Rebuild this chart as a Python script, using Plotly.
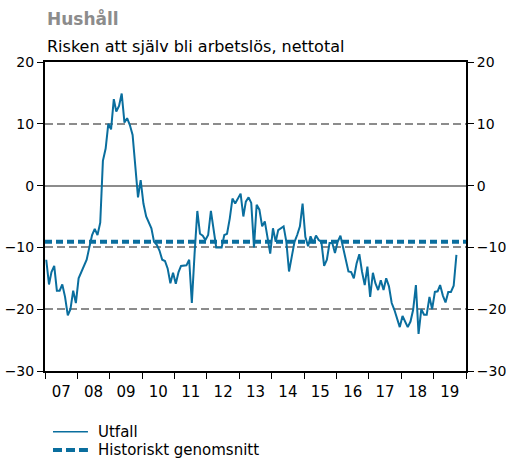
import plotly.graph_objects as go
import pandas as pd

# Monthly net balance, Jan 2007 - Sep 2019
utfall = [
    -12, -16, -14, -13, -17, -17, -16, -18, -21, -20, -17, -19,
    -15, -14, -13, -12, -10, -8, -7, -8, -6, 4, 6, 10,
    9.1, 14, 12, 12.9, 14.9, 10.2, 10.9, 9.8, 8.2, 3.6, -1.9, 0.9,
    -2.9, -5, -5.8, -6.9, -9.1, -9.6, -10.5, -12, -12.2, -13.4,
    -15.8, -14.1, -15.9, -14, -13, -13, -12.9, -12, -19, -11, -4.1, -7.8,
    -8.1, -8.8, -8, -4.1, -6.6, -10, -10, -10, -8, -7.8, -5.3, -2.1,
    -2.9, -2.1,
    -1.3, -5, -2.6, -1.9, -2.8, -10, -3.1, -3.9, -6.6, -5.8, -8.8, -11,
    -6.9, -9.1, -7.2, -6.9, -6.6, -9.1, -13.9, -11.5, -9.1, -8, -6.6, -2.9,
    -8.3, -9.8, -8.2, -9.3, -8.1, -8.8, -9.1, -13, -12, -9.3, -9.3, -10.9,
    -9.1, -8.1, -10, -12, -13.9, -14, -15, -12.6, -11.1, -13.9, -16.1, -13.1,
    -18, -14.1, -15.8, -16.9, -15.3, -16.9, -15, -16.3, -19, -20.1, -21.6, -22.9,
    -21.1, -22, -22.9, -22, -20.1, -16.1, -24, -20, -20.9, -20.9, -18, -20,
    -17.2, -17.1, -16.1, -17.8, -18.9, -17.2, -17.2, -16.2, -11.2,
]
months = pd.date_range("2007-01-01", periods=len(utfall), freq="MS") + pd.Timedelta(days=14)

hist_avg = -9.1
avg_span = ["2007-01-01", "2020-01-01"]

title = "Hushåll"
subtitle = "Risken att själv bli arbetslös, nettotal"
legend_names = ["Utfall", "Historiskt genomsnitt"]

blue = "#0a6e9e"
font = "DejaVu Sans"

fig = go.Figure()
fig.add_trace(go.Scatter(
    x=months, y=utfall, mode="lines", name=legend_names[0],
    line=dict(color=blue, width=2),
))
fig.add_trace(go.Scatter(
    x=avg_span, y=[hist_avg, hist_avg], mode="lines", name=legend_names[1],
    line=dict(color=blue, width=4, dash="7px,4px"), yaxis="y2",
))

yax = dict(
    range=[-30, 20], dtick=10, showline=True, linecolor="black", linewidth=2,
    ticks="outside", ticklen=6, tickcolor="black", tickwidth=1,
    showgrid=True, gridcolor="#8c8c8c", gridwidth=2, griddash="8px,4px",
    zeroline=True, zerolinecolor="#8c8c8c", zerolinewidth=2,
    tickfont=dict(size=14, color="black", family=font), fixedrange=True,
    automargin=False,
)

# legend drawn by hand below the plot (plotly's own legend pushes the margins)
legend_rows = [-0.197, -0.256]
legend_styles = [dict(color=blue, width=1.5), dict(color=blue, width=4, dash="9px,4px")]
shapes = []
annotations = []
for name, ypos, style in zip(legend_names, legend_rows, legend_styles):
    shapes.append(dict(type="line", xref="paper", yref="paper",
                       x0=0.019, x1=0.102, y0=ypos, y1=ypos, line=style))
    annotations.append(dict(text=name, x=0.121, y=ypos, xref="paper", yref="paper",
                            xanchor="left", yanchor="middle", showarrow=False,
                            font=dict(size=15, color="black", family=font)))

annotations += [
    dict(text="<b>" + title + "</b>", x=0, y=1, xref="paper", yref="paper",
         xanchor="left", yanchor="bottom", yshift=31, showarrow=False,
         font=dict(size=17, color="#8c8c8c", family=font)),
    dict(text=subtitle, x=0, y=1, xref="paper", yref="paper",
         xanchor="left", yanchor="bottom", yshift=4, showarrow=False,
         font=dict(size=16, color="black", family=font)),
]

fig.update_layout(
    width=506, height=459,
    margin=dict(l=45, r=40, t=62, b=88),
    plot_bgcolor="white", paper_bgcolor="white",
    font=dict(family=font, size=15, color="black"),
    xaxis=dict(
        type="date", range=["2007-01-01", "2020-01-01"],
        dtick="M12", tick0="2007-01-01", tickformat="%y", ticklabelmode="period",
        ticks="outside", ticklen=6, tickcolor="black",
        showline=True, linecolor="black", linewidth=2, mirror=True,
        showgrid=False, tickfont=dict(size=15, family=font), automargin=False,
    ),
    yaxis=yax,
    yaxis2=dict(yax, overlaying="y", side="right", showgrid=False, zeroline=False),
    showlegend=False,
    shapes=shapes,
    annotations=annotations,
)

# drop the default body margin so the figure fills the window exactly (no scrollbars)
fig.write_html("out.html", config={"displayModeBar": False},
               post_script="document.body.style.margin='0';")
